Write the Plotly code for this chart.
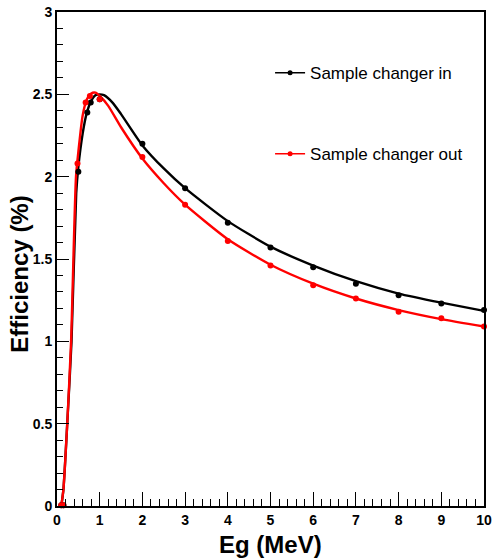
import plotly.graph_objects as go

# Measured points (MeV, %)
in_x = [0.1, 0.15, 0.5, 0.71, 0.79, 1.0, 2, 3, 4, 5, 6, 7, 8, 9, 10]
in_y = [0.005, 0.005, 2.03, 2.39, 2.45, 2.47, 2.20, 1.93, 1.72, 1.57, 1.45, 1.35, 1.28, 1.23, 1.19]
out_x = [0.1, 0.15, 0.48, 0.67, 0.77, 1.0, 2, 3, 4, 5, 6, 7, 8, 9, 10]
out_y = [0.005, 0.005, 2.08, 2.45, 2.49, 2.47, 2.12, 1.83, 1.61, 1.46, 1.34, 1.26, 1.18, 1.14, 1.09]

# Fitted curves
fit_in_x = [0.1, 0.15, 0.25, 0.34, 0.45, 0.5, 0.6, 0.7, 0.8, 0.9, 1.0, 1.1, 1.3, 1.5, 2.0, 2.5, 3, 4, 5, 6, 7, 8, 9, 10]
fit_in_y = [0.0, 0.1, 0.55, 1.0, 1.9, 2.06, 2.26, 2.39, 2.46, 2.495, 2.50, 2.495, 2.45, 2.38, 2.19, 2.05, 1.93, 1.73, 1.575, 1.46, 1.365, 1.29, 1.235, 1.185]
fit_out_x = [0.1, 0.15, 0.24, 0.33, 0.445, 0.5, 0.6, 0.7, 0.8, 0.9, 1.0, 1.2, 1.5, 2.0, 2.5, 3, 4, 5, 6, 7, 8, 9, 10]
fit_out_y = [0.0, 0.1, 0.5, 1.0, 2.0, 2.15, 2.37, 2.47, 2.505, 2.51, 2.49, 2.43, 2.30, 2.11, 1.96, 1.83, 1.62, 1.465, 1.35, 1.26, 1.19, 1.135, 1.09]

x_ticks = list(range(0, 11))
y_ticks = [0, 0.5, 1, 1.5, 2, 2.5, 3]
y_tick_labels = ["0", "0.5", "1", "1.5", "2", "2.5", "3"]
x_title = "Eg (MeV)"
y_title = "Efficiency (%)"

BLACK = "#000000"
RED = "#ff0000"
FONT = "Liberation Sans, Arial, sans-serif"

fig = go.Figure()

fig.add_trace(go.Scatter(x=fit_in_x, y=fit_in_y, mode="lines", line=dict(color=BLACK, width=2.4, shape="spline", smoothing=0.6),
                         showlegend=False, hoverinfo="skip", cliponaxis=False))
fig.add_trace(go.Scatter(x=fit_out_x, y=fit_out_y, mode="lines", line=dict(color=RED, width=2.4, shape="spline", smoothing=0.6),
                         showlegend=False, hoverinfo="skip", cliponaxis=False))
fig.add_trace(go.Scatter(x=in_x, y=in_y, mode="markers", marker=dict(color=BLACK, size=6),
                         showlegend=False, cliponaxis=False))
fig.add_trace(go.Scatter(x=out_x, y=out_y, mode="markers", marker=dict(color=RED, size=6),
                         showlegend=False, cliponaxis=False))

# legend entries
fig.add_trace(go.Scatter(x=[None], y=[None], mode="lines+markers", name="Sample changer in",
                         line=dict(color=BLACK, width=1.5), marker=dict(color=BLACK, size=5), legend="legend"))
fig.add_trace(go.Scatter(x=[None], y=[None], mode="lines+markers", name="Sample changer out",
                         line=dict(color=RED, width=1.5), marker=dict(color=RED, size=5), legend="legend2"))

axis_common = dict(
    showline=True, linecolor="black", linewidth=2, mirror=True,
    ticks="inside", tickcolor="black", tickwidth=1,
    showgrid=False, zeroline=False, automargin=False,
    tickfont=dict(family=FONT, size=14, color="black", weight="bold"),
)

fig.update_xaxes(
    range=[0, 10], tickmode="array", tickvals=x_ticks, ticktext=[str(v) for v in x_ticks],
    ticklen=14,
    minor=dict(dtick=0.2, ticks="inside", ticklen=7, tickcolor="black", tickwidth=1, showgrid=False),
    **axis_common,
)
fig.update_yaxes(
    range=[0, 3], tickmode="array", tickvals=y_ticks, ticktext=y_tick_labels,
    ticklen=12,
    minor=dict(dtick=0.1, ticks="inside", ticklen=6, tickcolor="black", tickwidth=1, showgrid=False),
    **axis_common,
)

title_font = dict(family=FONT, size=24, color="black", weight="bold")
fig.add_annotation(text=x_title, xref="paper", yref="paper", x=0.5, y=-0.078, yanchor="middle",
                   showarrow=False, font=title_font)
fig.add_annotation(text=y_title, xref="paper", yref="paper", x=-0.087, y=0.47, xanchor="center", yanchor="middle",
                   textangle=-90, showarrow=False, font=title_font)

leg_common = dict(bgcolor="rgba(0,0,0,0)", borderwidth=0, xanchor="left", yanchor="middle",
                  font=dict(family=FONT, size=17, color="black"), itemwidth=30)
fig.update_layout(
    width=492, height=560,
    margin=dict(l=57, r=8, t=12, b=54, autoexpand=False),
    paper_bgcolor="white", plot_bgcolor="white",
    legend=dict(x=0.499, y=0.876, **leg_common),
    legend2=dict(x=0.499, y=0.712, **leg_common),
)

fig.write_html("out.html", config={"displayModeBar": False},
               post_script="document.body.style.margin='0';document.body.style.overflow='hidden';")
